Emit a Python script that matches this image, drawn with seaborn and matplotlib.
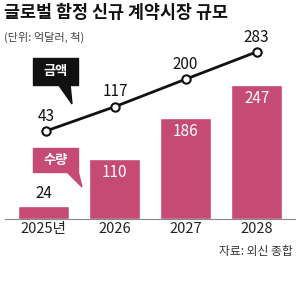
import matplotlib
matplotlib.use("Agg")
import matplotlib.pyplot as plt
import seaborn as sns
import pandas as pd
from matplotlib.patches import Polygon, Rectangle

years = ["2025년", "2026", "2027", "2028"]
count_values = [24, 110, 186, 247]     # 수량 (척)
amount_values = [43, 117, 200, 283]    # 금액 (억달러)

sns.set_theme(style="white")
plt.rcParams['font.family'] = ['Noto Sans CJK KR', 'DejaVu Sans']

W, H = 300, 289
fig = plt.figure(figsize=(W / 100, H / 100), dpi=100)
fig.patch.set_facecolor("white")

def fx(x):
    return x / W

def fy(y):
    return 1 - y / H

PINK = "#C54A74"

base_y = 219
top_y = 30
ax = fig.add_axes([5 / W, fy(base_y), 290 / W, (base_y - top_y) / H])
df = pd.DataFrame({"year": years, "count": count_values, "amount": amount_values})
sns.barplot(data=df, x="year", y="count", color=PINK, width=0.72, saturation=1, ax=ax)
XL = (-0.543, 3.54)
ax.set_xlim(*XL)
ax.set_ylim(0, (base_y - top_y) / 0.543)
ax.set_xlabel("")
ax.set_ylabel("")
ax.set_yticks([])
for s in ["top", "right", "left"]:
    ax.spines[s].set_visible(False)
ax.spines["bottom"].set_color("#888888")
ax.spines["bottom"].set_linewidth(0.8)
ax.tick_params(axis="x", length=0, pad=2, labelsize=10.5, labelcolor="#222222")
ax.patch.set_alpha(0)

for i, v in enumerate(count_values):
    if i == 0:
        ax.text(i, v + 8, str(v), ha="center", va="bottom", fontsize=11, color="#111111")
    else:
        ax.text(i, v - 9, str(v), ha="center", va="top", fontsize=11, color="white")

ax2 = ax.twinx()
ax2.set_ylim(-74 / 0.329, (base_y - top_y - 74) / 0.329)
xs = [0.04, 1.01, 2.0, 3.0]
sns.lineplot(x=xs, y=amount_values, ax=ax2, color="#111111", linewidth=2.0,
             marker="o", markersize=6, markerfacecolor="white", markeredgecolor="#111111",
             markeredgewidth=1.5)
ax2.set_xlim(*XL)
ax2.set_yticks([])
ax2.set_ylabel("")
for s in ["top", "right", "left", "bottom"]:
    ax2.spines[s].set_visible(False)
for x, v in zip(xs, amount_values):
    ax2.text(x, v + 19, str(v), ha="center", va="bottom", fontsize=11, color="#111111")

# callout boxes
def callout(x0, y0, x1, y1, tail, color, label):
    fig.patches.append(Rectangle((fx(x0), fy(y1)), fx(x1) - fx(x0), fy(y0) - fy(y1),
                                 transform=fig.transFigure, color=color, zorder=5))
    fig.patches.append(Polygon([(fx(px), fy(py)) for px, py in tail], closed=True,
                               transform=fig.transFigure, color=color, zorder=5))
    fig.text(fx((x0 + x1) / 2), fy((y0 + y1) / 2), label, ha="center", va="center",
             fontsize=9.5, fontweight="bold", color="white", zorder=6)

callout(33, 58, 78, 85, [(58, 84), (70, 84), (72, 104)], "#111111", "금액")
callout(33, 148, 78, 172, [(66, 171), (78, 171), (82, 187)], PINK, "수량")

fig.text(fx(4), fy(13), "글로벌 함정 신규 계약시장 규모", ha="left", va="center",
         fontsize=12.5, fontweight="bold", color="#111111")
fig.text(fx(4), fy(37), "(단위: 억달러, 척)", ha="left", va="center",
         fontsize=8, color="#444444")
fig.text(fx(293), fy(252), "자료: 외신 종합", ha="right", va="center",
         fontsize=8.5, color="#333333")

fig.savefig("out.png", dpi=100)
